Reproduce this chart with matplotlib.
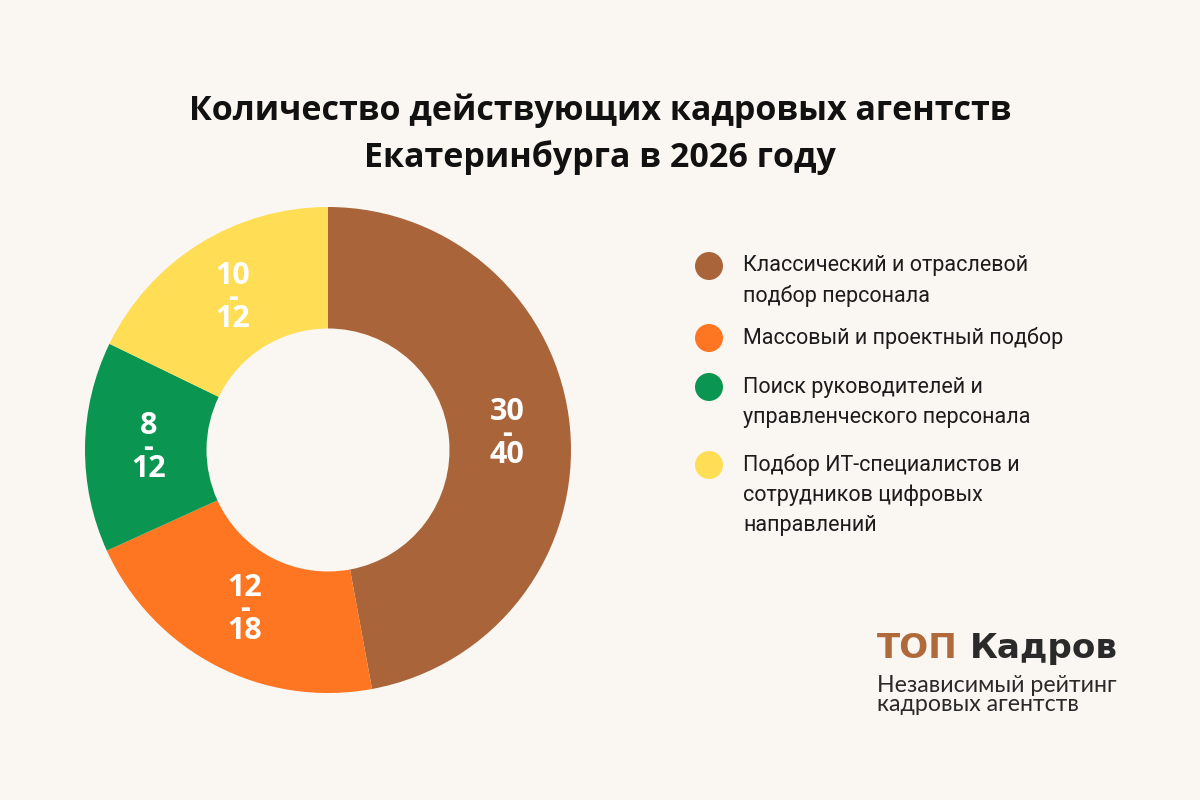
import matplotlib
matplotlib.use('Agg')
import matplotlib.pyplot as plt
import numpy as np

# ---------------- data ----------------
categories = [
    "Классический и отраслевой\nподбор персонала",
    "Массовый и проектный подбор",
    "Поиск руководителей и\nуправленческого персонала",
    "Подбор ИТ-специалистов и\nсотрудников цифровых\nнаправлений",
]
shares = [47.1, 21.1, 14.0, 17.8]          # slice shares (%)
range_low = [30, 12, 8, 10]
range_high = [40, 18, 12, 12]
colors = ["#A9643A", "#FE7622", "#0A9650", "#FFDD55"]
title_lines = ["Количество действующих кадровых агентств",
               "Екатеринбурга в 2026 году"]
logo_brand = ["ТОП", "Кадров"]
logo_sub = ["Независимый рейтинг", "кадровых агентств"]

# ---------------- layout ----------------
W, H = 1200, 800
BG = "#FAF6F1"
fig = plt.figure(figsize=(12, 8), dpi=100, facecolor=BG)
ov = fig.add_axes([0, 0, 1, 1])
ov.set_xlim(0, W)
ov.set_ylim(H, 0)
ov.axis('off')
ov.patch.set_alpha(0)
renderer = fig.canvas.get_renderer()


def fit(t, width_px):
    bb = t.get_window_extent(renderer)
    t.set_fontsize(t.get_fontsize() * width_px / bb.width)
    return t.get_fontsize()


# donut
cx, cy, R = 328, 450, 243
ax = fig.add_axes([(cx - R) / W, (H - cy - R) / H, 2 * R / W, 2 * R / H])
wedges, _ = ax.pie(shares, colors=colors, startangle=90, counterclock=False,
                   radius=1, wedgeprops=dict(width=0.5, edgecolor='none', linewidth=0))
ax.set_xlim(-1, 1)
ax.set_ylim(-1, 1)
ax.set_aspect('equal')
ax.axis('off')

for w, lo, hi in zip(wedges, range_low, range_high):
    ang = np.deg2rad((w.theta1 + w.theta2) / 2)
    r = 0.74
    x, y = r * np.cos(ang), r * np.sin(ang)
    ax.text(x, y, f"{lo}\n-\n{hi}", ha='center', va='center', color='white',
            fontsize=22, fontweight='bold', family='Open Sans',
            linespacing=0.62, multialignment='center')

# title
t1 = ov.text(600, 120, title_lines[0], ha='center', va='baseline', fontsize=26,
             fontweight='bold', family='Open Sans', color='#111111')
fs = fit(t1, 826)
ov.text(600, 167, title_lines[1], ha='center', va='baseline', fontsize=fs,
        fontweight='bold', family='Open Sans', color='#111111')

# legend
item_y = [266, 338, 387, 465]
line_gap = 30
legend_texts = []
lf = 15
for cat, col, y0 in zip(categories, colors, item_y):
    ov.scatter([709], [y0], s=(28 * 0.72) ** 2, color=col, edgecolors='none')
    for i, line in enumerate(cat.split("\n")):
        t = ov.text(743, y0 + i * line_gap, line, ha='left', va='center',
                    fontsize=15, family='Roboto', color='#1C1C1C')
        legend_texts.append(t)
        if line == "Массовый и проектный подбор":
            lf = fit(t, 322)
for t in legend_texts:
    t.set_fontsize(lf)

# logo
probe = ov.text(877, 658, " ".join(logo_brand), ha='left', va='baseline',
                fontsize=26, fontweight='bold', family='DejaVu Sans')
bf = fit(probe, 241)
probe.remove()
ov.text(877, 658, logo_brand[0], ha='left', va='baseline', fontsize=bf,
        fontweight='bold', family='DejaVu Sans', color='#B0693A')
ov.text(1118, 658, logo_brand[1], ha='right', va='baseline', fontsize=bf,
        fontweight='bold', family='DejaVu Sans', color='#2A2A2A')
s1 = ov.text(877, 692, logo_sub[0], ha='left', va='baseline', fontsize=15,
             family='Lato', color='#2A2A2A')
sf = fit(s1, 240)
ov.text(877, 711, logo_sub[1], ha='left', va='baseline', fontsize=sf,
        family='Lato', color='#2A2A2A')

fig.savefig('out.png', dpi=100, facecolor=BG)
